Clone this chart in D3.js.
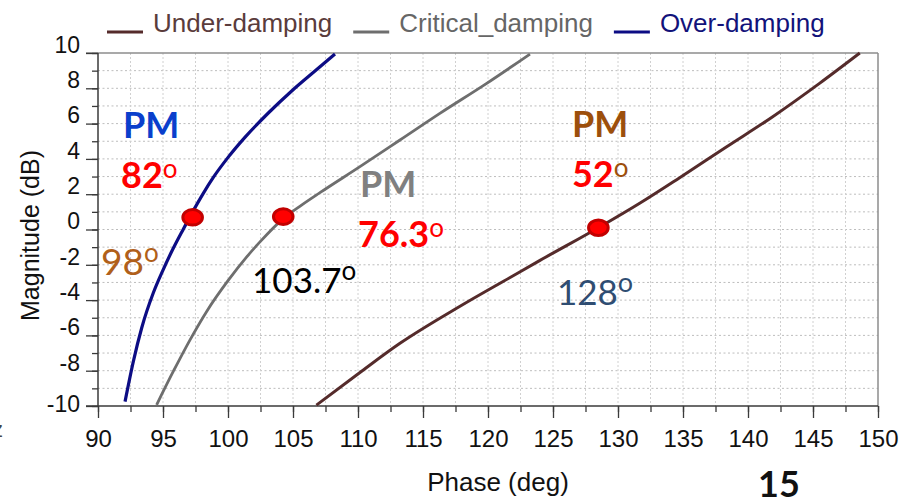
<!DOCTYPE html>
<html>
<head>
<meta charset="utf-8">
<script src="https://cdn.jsdelivr.net/npm/d3@7"></script>
<style>
  body { margin: 0; background: #fff; }
  svg { display: block; font-family: "Liberation Sans", Arial, sans-serif; }
  .note { font-family: Lato, "Open Sans", sans-serif; }
</style>
</head>
<body>
<svg width="919" height="498"></svg>
<script>

// ---- data ----
const phaseTicks = [90, 95, 100, 105, 110, 115, 120, 125, 130, 135, 140, 145, 150]
const magTicks = [-10, -8, -6, -4, -2, 0, 2, 4, 6, 8, 10]
const seriesNames = ['Under-damping', 'Critical_damping', 'Over-damping']

const underPhase = [106.8, 110.15, 113.23, 117.85, 121.7, 124.0, 128.49, 131.7, 134.77, 138.36, 141.9, 145.5, 148.6]
const underMag = [-9.95, -8.1, -6.45, -4.35, -2.72, -1.75, 0.1, 1.5, 2.95, 4.69, 6.39, 8.28, 10.0]

const criticalPhase = [94.51, 95.8, 97.08, 98.36, 100.0, 101.44, 102.46, 104.25, 105.5, 107.1, 110.15, 113.23, 116.3, 119.9, 123.23]
const criticalMag = [-9.93, -8.03, -6.25, -4.64, -2.9, -1.55, -0.7, 0.62, 1.3, 2.1, 3.56, 5.07, 6.58, 8.28, 9.94]

const overPhase = [92.08, 92.72, 93.36, 94.25, 95.0, 95.8, 96.56, 97.28, 98.1, 98.87, 100.02, 101.3, 103.1, 104.9, 106.69, 108.23]
const overMag = [-9.75, -7.47, -5.58, -3.6, -2.3, -1.05, 0.02, 1.0, 2.05, 2.95, 4.1, 5.22, 6.6, 7.85, 8.98, 9.94]

const markPhase = [97.28, 104.25, 128.49]
const markMag = [0.69, 0.73, 0.1]

const pmValues = ['82', '76.3', '52']
const crossValues = ['98', '103.7', '128']

// ---- layout ----
const svg = d3.select('svg')
const width = +svg.attr('width')
const height = +svg.attr('height')
const margin = { top: 53, right: 41, bottom: 92, left: 98 }
const innerWidth = width - margin.left - margin.right
const innerHeight = height - margin.top - margin.bottom

const x = d3.scaleLinear().domain([90, 150]).range([0, innerWidth])
const y = d3.scaleLinear().domain([-10, 10]).range([innerHeight, 0])

const colors = {
  'Under-damping': { line: '#552b2b', text: '#5a3c3c' },
  'Critical_damping': { line: '#6e6e6e', text: '#666666' },
  'Over-damping': { line: '#0c0c84', text: '#12127a' }
}

const g = svg.append('g').attr('transform', `translate(${margin.left}, ${margin.top})`)

// grid
g.append('g')
  .selectAll('line')
  .data(d3.range(-9, 10))
  .enter().append('line')
  .attr('x1', 0).attr('x2', innerWidth)
  .attr('y1', d => y(d)).attr('y2', d => y(d))
  .style('stroke', '#bdbdbd')
  .style('stroke-dasharray', '2,2.5')

g.append('g')
  .selectAll('line')
  .data(d3.range(92.5, 150, 2.5))
  .enter().append('line')
  .attr('y1', 0).attr('y2', innerHeight)
  .attr('x1', d => x(d)).attr('x2', d => x(d))
  .style('stroke', '#d0d0d0')
  .style('stroke-dasharray', '2,2')

// top and right frame
g.append('line').attr('x1', -12).attr('x2', innerWidth).attr('y1', 0).attr('y2', 0)
  .style('stroke', '#8c8c8c').style('stroke-width', 1.5)
g.append('line').attr('x1', innerWidth).attr('x2', innerWidth).attr('y1', 0).attr('y2', innerHeight)
  .style('stroke', '#8c8c8c').style('stroke-width', 1.5)

// axes
const axisColor = '#3a3a3a'

const yMinor = g.append('g').call(d3.axisLeft(y).tickValues(d3.range(-10, 11)).tickSize(6).tickFormat(''))
const yMajor = g.append('g').call(
  d3.axisLeft(y).tickValues(magTicks).tickSize(12).tickPadding(6).tickFormat(d => String(d))
)
yMajor.selectAll('.tick text')
  .attr('dy', d => d === -10 ? '0.24em' : '-0.03em')
  .style('font-size', '23px')
  .style('fill', '#111')

const xMinor = g.append('g').attr('transform', `translate(0, ${innerHeight})`)
  .call(d3.axisBottom(x).tickValues(d3.range(90, 151, 2.5)).tickSize(6).tickFormat(''))
const xMajor = g.append('g').attr('transform', `translate(0, ${innerHeight})`)
  .call(d3.axisBottom(x).tickValues(phaseTicks).tickSize(12).tickPadding(11.5).tickFormat(d => String(d)))
xMajor.selectAll('.tick text')
  .style('font-size', '24px')
  .style('fill', '#111')

;[yMinor, yMajor, xMinor, xMajor].forEach(a => {
  a.select('.domain').remove()
  a.selectAll('.tick line').style('stroke', axisColor).style('stroke-width', 1.3)
})

g.append('line').attr('x1', 0).attr('x2', 0).attr('y1', 0).attr('y2', innerHeight)
  .style('stroke', axisColor).style('stroke-width', 1.5)
g.append('line').attr('x1', -12).attr('x2', innerWidth).attr('y1', innerHeight).attr('y2', innerHeight)
  .style('stroke', axisColor).style('stroke-width', 1.5)

// axis titles
svg.append('text')
  .attr('transform', `translate(39, ${margin.top + innerHeight / 2 + 6}) rotate(-90)`)
  .attr('text-anchor', 'middle')
  .style('font-size', '25px')
  .style('fill', '#111')
  .text('Magnitude (dB)')

svg.append('text')
  .attr('x', margin.left + innerWidth / 2 + 10)
  .attr('y', 491)
  .attr('text-anchor', 'middle')
  .style('font-size', '26px')
  .style('fill', '#111')
  .text('Phase (deg)')

// curves
const line = d3.line()
  .x(d => x(d[0]))
  .y(d => y(d[1]))
  .curve(d3.curveMonotoneX)

const curves = [
  { name: 'Under-damping', pts: d3.zip(underPhase, underMag), w: 3 },
  { name: 'Critical_damping', pts: d3.zip(criticalPhase, criticalMag), w: 2.8 },
  { name: 'Over-damping', pts: d3.zip(overPhase, overMag), w: 3.2 }
]

g.selectAll('.curve')
  .data(curves)
  .enter().append('path')
  .attr('class', 'curve')
  .attr('d', d => line(d.pts))
  .style('fill', 'none')
  .style('stroke', d => colors[d.name].line)
  .style('stroke-width', d => d.w)

// crossover marks
g.selectAll('.mark')
  .data(d3.zip(markPhase, markMag))
  .enter().append('ellipse')
  .attr('class', 'mark')
  .attr('cx', d => x(d[0]))
  .attr('cy', d => y(d[1]))
  .attr('rx', 9.8)
  .attr('ry', 7.8)
  .style('fill', '#ff0000')
  .style('stroke', '#c20000')
  .style('stroke-width', 3)

// legend
const legend = svg.append('g').attr('transform', 'translate(107, 32)')
let lx = 0
seriesNames.forEach(name => {
  legend.append('line')
    .attr('x1', lx).attr('x2', lx + 36)
    .attr('y1', 0).attr('y2', 0)
    .style('stroke', colors[name].line)
    .style('stroke-width', 3.2)
  const t = legend.append('text')
    .attr('x', lx + 46)
    .attr('y', 0)
    .style('font-size', '26px')
    .style('fill', colors[name].text)
    .text(name)
  lx += 46 + t.node().getComputedTextLength() + 21
})

// annotations (anchored in data units)
const note = (phase, mag, parts) => {
  const t = g.append('text')
    .attr('class', 'note')
    .attr('x', x(phase))
    .attr('y', y(mag))
  parts.forEach(p => {
    const s = t.append('tspan')
      .style('font-size', p.size + 'px')
      .style('font-weight', p.bold ? 700 : 400)
      .style('fill', p.color)
      .text(p.text)
    if (p.dy) s.attr('dy', p.dy)
  })
}

note(91.92, 5.18, [{ text: 'PM', size: 36, bold: true, color: '#0a3fcc' }])
note(91.77, 2.35, [
  { text: pmValues[0], size: 36, bold: true, color: '#ff0000' },
  { text: 'o', size: 26, color: '#ff0000', dy: -10 }
])
note(110.15, 1.84, [{ text: 'PM', size: 36, bold: true, color: '#808080' }])
note(110.0, -0.97, [
  { text: pmValues[1], size: 36, bold: true, color: '#ff0000' },
  { text: 'o', size: 26, color: '#ff0000', dy: -10 }
])
note(126.46, 5.24, [{ text: 'PM', size: 36, bold: true, color: '#9c4f0c' }])
note(126.46, 2.41, [
  { text: pmValues[2], size: 36, bold: true, color: '#ff0000' },
  { text: 'o', size: 26, color: '#9c4f0c', dy: -10 }
])
note(90.23, -2.58, [
  { text: crossValues[0], size: 37, color: '#b0601a' },
  { text: 'o', size: 26, color: '#b0601a', dy: -13 }
])
note(101.85, -3.6, [
  { text: crossValues[1], size: 35, color: '#000000' },
  { text: 'o', size: 26, color: '#000000', dy: -13 }
])
note(125.3, -4.28, [
  { text: crossValues[2], size: 35, color: '#2f4d72' },
  { text: 'o', size: 27, color: '#2f4d72', dy: -13 }
])

// slide page number and clipped edge text
svg.append('text')
  .attr('class', 'note')
  .attr('x', 758)
  .attr('y', 497)
  .style('font-size', '36px')
  .style('font-weight', 700)
  .style('fill', '#111')
  .text('15')

svg.append('text')
  .attr('x', 3)
  .attr('y', 437)
  .attr('text-anchor', 'end')
  .style('font-size', '22px')
  .style('fill', '#444')
  .text('Hz')

</script>
</body>
</html>
